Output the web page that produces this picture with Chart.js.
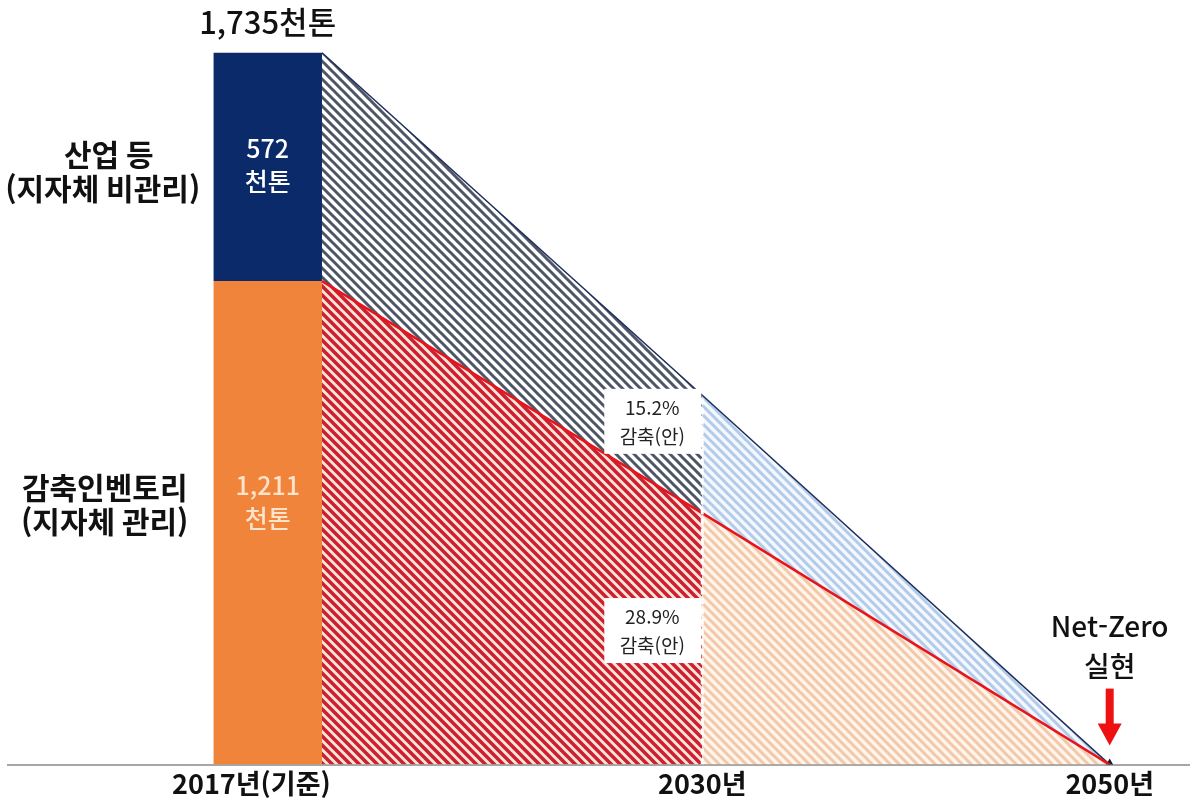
<!DOCTYPE html>
<html lang="ko">
<head>
<meta charset="utf-8">
<title>온실가스 감축 경로</title>
<script src="https://cdn.jsdelivr.net/npm/chart.js@4"></script>
<style>
  html, body { margin: 0; padding: 0; background: #fff; }
  #wrap { width: 1195px; height: 811px; }
</style>
</head>
<body>
<div id="wrap"><canvas id="chart"></canvas></div>
<script>
// Chart data (천톤)
const categories = ['2017년(기준)', '2030년', '2050년'];
const totalValues = [1783, 925, 0];      // 산업 등 포함 상단선
const inventoryValues = [1211, 630, 0];  // 감축인벤토리 상단선
const industryValue = 572;
const totalLabel = '1,735천톤';
const barLabels = [['572', '천톤'], ['1,211', '천톤']];
const sideLabels = [['산업 등', '(지자체 비관리)'], ['감축인벤토리', '(지자체 관리)']];
const reductionLabels = [['15.2%', '감축(안)'], ['28.9%', '감축(안)']];
const netZeroLabel = ['Net-Zero', '실현'];

// Layout positions on the x scale (bar width = 1 unit)
const X_BAR_L = -0.5, X_BAR_R = 0.5, X_MID = 4, X_END = 7.75;
const tickPos = [-0.15, X_MID, X_END];

const FONT = '"Noto Sans CJK KR", "Noto Sans", sans-serif';

// Diagonal hatch pattern
const hatch = (bg, fg, lw) => {
  const s = 9;
  const c = document.createElement('canvas');
  c.width = s; c.height = s;
  const g = c.getContext('2d');
  g.fillStyle = bg;
  g.fillRect(0, 0, s, s);
  g.strokeStyle = fg;
  g.lineWidth = lw;
  g.beginPath();
  for (let k = -1; k <= 1; k++) {
    g.moveTo(-4, -4 + s * k);
    g.lineTo(s + 4, s + 4 + s * k);
  }
  g.stroke();
  return g.createPattern(c, 'repeat');
};

const navyHatch = hatch('#ffffff', '#4d5567', 3);
const redHatch = hatch('#fde5da', '#cc1f2f', 3.5);
const blueHatch = hatch('#f4f8fd', '#b3cbea', 3);
const orangeHatch = hatch('#fdf4ec', '#f3c8a8', 3);

const pt = (x, y) => ({ x, y });

// Text and arrow overlay
const overlay = {
  id: 'overlay',
  afterDatasetsDraw(chart) {
    const { ctx, scales: { x, y } } = chart;
    const cx = x.getPixelForValue(0);
    const base = y.getPixelForValue(0);
    ctx.save();
    ctx.textAlign = 'center';
    ctx.textBaseline = 'middle';

    // total on top of bar
    ctx.fillStyle = '#111';
    ctx.font = '500 31px ' + FONT;
    ctx.fillText(totalLabel, cx, y.getPixelForValue(totalValues[0]) - 30);

    // labels inside the bar
    const navyMid = y.getPixelForValue((inventoryValues[0] + totalValues[0]) / 2);
    const orangeMid = y.getPixelForValue(inventoryValues[0] / 2) - 20;
    ctx.font = '500 25px ' + FONT;
    ctx.fillStyle = '#ffffff';
    ctx.fillText(barLabels[0][0], cx, navyMid - 18);
    ctx.fillText(barLabels[0][1], cx, navyMid + 15);
    ctx.fillStyle = '#fde3cc';
    ctx.fillText(barLabels[1][0], cx, orangeMid - 17);
    ctx.fillText(barLabels[1][1], cx, orangeMid + 16);

    // side labels
    const sx = x.getPixelForValue(-1.5);
    ctx.fillStyle = '#111';
    ctx.font = 'bold 30px ' + FONT;
    ctx.fillText(sideLabels[0][0], sx + 4, navyMid - 12);
    ctx.fillText(sideLabels[0][1], sx - 2, navyMid + 22);
    ctx.fillText(sideLabels[1][0], sx, orangeMid - 15);
    ctx.fillText(sideLabels[1][1], sx, orangeMid + 19);

    // reduction boxes
    const bx = x.getPixelForValue(3.54);
    const boxes = [861, 337];
    ctx.font = '19px ' + FONT;
    boxes.forEach((v, i) => {
      const by = y.getPixelForValue(v);
      ctx.fillStyle = '#ffffff';
      ctx.fillRect(bx - 48, by - 32, 97, 65);
      ctx.fillStyle = '#222';
      ctx.fillText(reductionLabels[i][0], bx, by - 13);
      ctx.fillText(reductionLabels[i][1], bx, by + 16);
    });

    // Net-Zero
    const ex = x.getPixelForValue(X_END);
    ctx.fillStyle = '#111';
    ctx.font = '500 28px ' + FONT;
    ctx.fillText(netZeroLabel[0], ex, base - 138);
    ctx.fillText(netZeroLabel[1], ex, base - 98);

    // red arrow
    ctx.fillStyle = '#ee1111';
    ctx.fillRect(ex - 4, base - 76, 8, 38);
    ctx.beginPath();
    ctx.moveTo(ex - 12, base - 41);
    ctx.lineTo(ex + 12, base - 41);
    ctx.lineTo(ex, base - 19);
    ctx.closePath();
    ctx.fill();
    ctx.restore();
  }
};

const ctx = document.getElementById('chart').getContext('2d');
const chart = new Chart(ctx, {
  type: 'line',
  data: {
    datasets: [
      {
        // upper hatched band 2017-2030
        data: [pt(X_BAR_R, totalValues[0]), pt(X_MID, totalValues[1])],
        borderColor: '#1c2d5a', borderWidth: 1.5,
        backgroundColor: navyHatch, fill: '+1', order: 3
      },
      {
        // lower hatched band 2017-2030
        data: [pt(X_BAR_R, inventoryValues[0]), pt(X_MID, inventoryValues[1])],
        borderColor: '#e8141c', borderWidth: 2.5,
        backgroundColor: redHatch, fill: 'origin', order: 1
      },
      {
        // upper hatched band 2030-2050
        data: [pt(X_MID, totalValues[1]), pt(X_END, totalValues[2])],
        borderColor: '#1c2d5a', borderWidth: 1.5,
        backgroundColor: blueHatch, fill: '+1', order: 3,
        pointRadius: [0, 6], pointStyle: 'triangle',
        pointBackgroundColor: '#0d1b3e', pointBorderWidth: 0
      },
      {
        // lower hatched band 2030-2050
        data: [pt(X_MID, inventoryValues[1]), pt(X_END, inventoryValues[2])],
        borderColor: '#e8141c', borderWidth: 2.5,
        backgroundColor: orangeHatch, fill: 'origin', order: 1
      },
      {
        // 2017 bar - inventory part
        data: [pt(X_BAR_L, inventoryValues[0]), pt(X_BAR_R, inventoryValues[0])],
        borderWidth: 0, backgroundColor: '#f0843a', fill: 'origin', order: 5
      },
      {
        // 2017 bar - industry part
        data: [pt(X_BAR_L, inventoryValues[0] + industryValue), pt(X_BAR_R, inventoryValues[0] + industryValue)],
        borderWidth: 0, backgroundColor: '#0b2a69', fill: '-1', order: 5
      },
      {
        // 2030 dashed divider
        data: [pt(X_MID, 0), pt(X_MID, totalValues[1])],
        borderColor: '#ffffff', borderWidth: 3, borderDash: [6, 4],
        fill: false, order: 0
      }
    ]
  },
  options: {
    responsive: true,
    maintainAspectRatio: false,
    animation: false,
    layout: { padding: { left: 8, right: 0, top: 0, bottom: 8 } },
    elements: { point: { radius: 0 }, line: { tension: 0 } },
    plugins: {
      legend: { display: false },
      tooltip: { enabled: false }
    },
    scales: {
      x: {
        type: 'linear',
        min: -2.39,
        max: 8.48,
        grid: { display: false, drawTicks: false },
        border: { display: true, color: '#a6a6a6', width: 2 },
        afterBuildTicks: (scale) => {
          scale.ticks = tickPos.map(v => ({ value: v }));
        },
        ticks: {
          autoSkip: false,
          maxRotation: 0,
          padding: 3,
          color: '#111',
          font: { family: FONT, size: 27, weight: 'bold' },
          callback: (value, index) => categories[index]
        }
      },
      y: {
        display: false,
        min: 0,
        max: 1900
      }
    }
  },
  plugins: [overlay]
});
</script>
</body>
</html>
